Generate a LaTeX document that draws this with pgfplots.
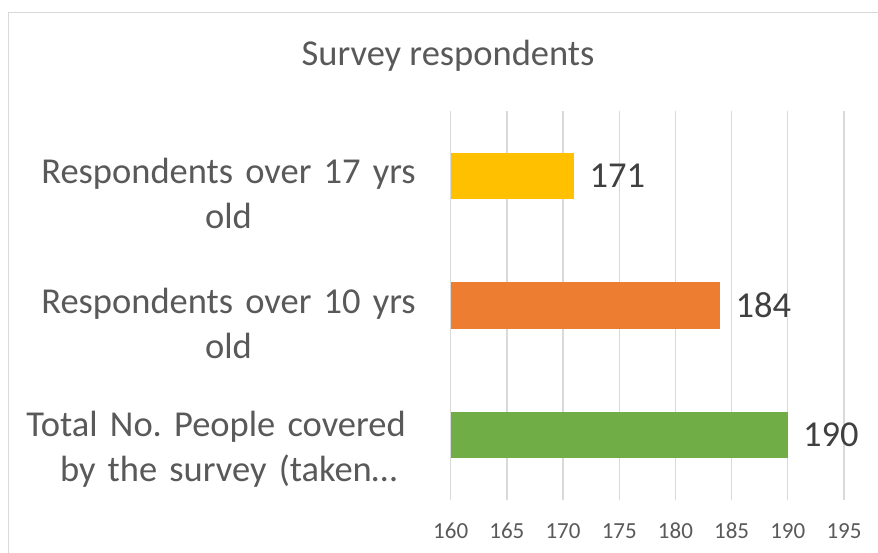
\documentclass[border=0pt]{standalone}
\usepackage{pgfplots}
\pgfplotsset{compat=1.18}
\usepackage{fontspec}
\setmainfont{Carlito}
\frenchspacing
\definecolor{gridgray}{HTML}{D9D9D9}
\definecolor{txt}{HTML}{595959}
\definecolor{lbl}{HTML}{404040}
\definecolor{cy}{HTML}{FFC000}
\definecolor{co}{HTML}{ED7D31}
\definecolor{cg}{HTML}{70AD47}
\begin{document}
\begin{tikzpicture}[x=1pt,y=1pt]
\useasboundingbox (0,0) rectangle (878,552);
\begin{scope}
\clip (0,0) rectangle (878,552);
\draw[gridgray, line width=1.3pt] (8.3,539.7) rectangle (900,-20);
\end{scope}
\node[anchor=base, text=txt, inner sep=0pt, font=\fontsize{36.5}{44}\selectfont] at (448,486) {Survey respondents};
\begin{axis}[
  at={(450.7pt,52pt)}, anchor=south west,
  width=393.3pt, height=389pt, scale only axis,
  xbar, bar width=46pt, bar shift=0pt,
  xmin=160, xmax=195, ymin=0.5, ymax=3.5,
  xtick={160,165,...,195},
  ytick={1.05,2,3},
  yticklabels={{Total No. People covered\makebox[25pt]{}\\by the survey (taken…},{Respondents over 10 yrs\\old},{Respondents over 17 yrs\\old}},
  axis line style={draw=none},
  tick style={draw=none},
  xmajorgrids, ymajorgrids=false,
  grid style={gridgray, line width=1.3pt},
  /pgf/number format/assume math mode=true,
  xticklabel style={anchor=center, inner sep=0pt, yshift=-30.7pt, text=txt, font=\fontsize{23}{28}\selectfont},
  yticklabel style={anchor=base east, inner sep=0pt, xshift=2.3pt, yshift=-7.7pt, text width=440pt, align=center, text=txt, font=\fontsize{36.5}{45}\selectfont},
  clip mode=individual,
  nodes near coords,
  every node near coord/.append style={anchor=west, inner sep=0pt, xshift=15pt, text=lbl, font=\fontsize{36.5}{44}\selectfont},
]
\addplot[fill=cg, draw=none] coordinates {(190,1)};
\addplot[fill=co, draw=none] coordinates {(184,2)};
\addplot[fill=cy, draw=none] coordinates {(171,3)};
\end{axis}
\end{tikzpicture}
\end{document}
